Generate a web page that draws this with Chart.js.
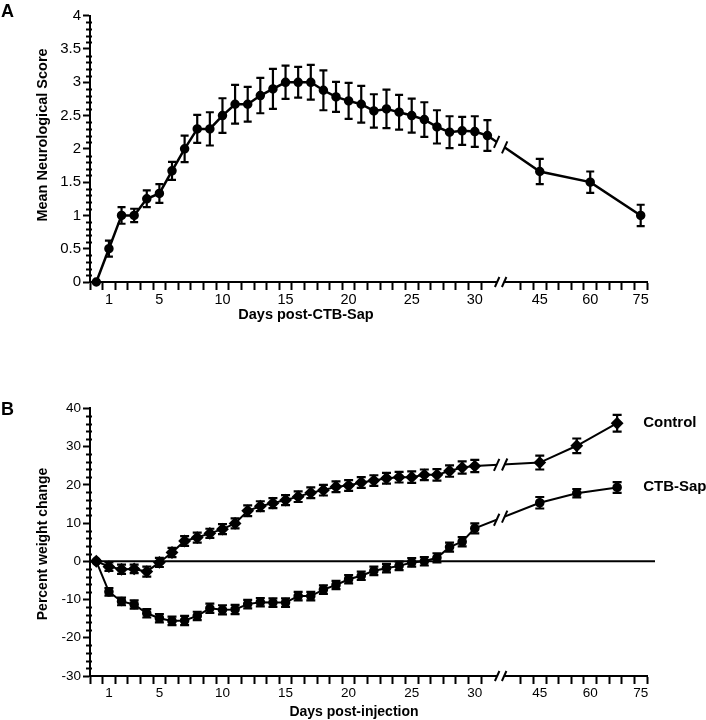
<!DOCTYPE html>
<html>
<head>
<meta charset="utf-8">
<script src="https://cdn.jsdelivr.net/npm/chart.js@4.4.1/dist/chart.umd.min.js"></script>
<style>
    html, body { margin: 0; padding: 0; background: #fff; }
    #wrap { position: relative; width: 706px; height: 720px; }
    #panelA { position: absolute; left: 0; top: 0; }
    #panelB { position: absolute; left: 0; top: 330px; }
</style>
</head>
<body>
<div id="wrap">
    <canvas id="panelA" width="706" height="330"></canvas>
    <canvas id="panelB" width="706" height="390"></canvas>
</div>
<script>
// panel A data
var daysA = [0,1,2,3,4,5,6,7,8,9,10,11,12,13,14,15,16,17,18,19,20,21,22,23,24,25,26,27,28,29,30,31,45,60,75];
var scoreMean = [0,0.5,1.0,1.0,1.25,1.33,1.67,2.0,2.3,2.3,2.5,2.67,2.67,2.8,2.9,3.0,3.0,3.0,2.88,2.78,2.72,2.67,2.57,2.6,2.55,2.5,2.44,2.33,2.25,2.27,2.26,2.2,1.66,1.5,1.0];
var scoreErr = [0,0.12,0.125,0.1,0.125,0.14,0.135,0.2,0.21,0.25,0.26,0.29,0.26,0.265,0.3,0.25,0.23,0.26,0.3,0.225,0.27,0.275,0.25,0.29,0.26,0.255,0.26,0.25,0.24,0.21,0.23,0.23,0.19,0.16,0.16];

// panel B data
var daysB = [0,1,2,3,4,5,6,7,8,9,10,11,12,13,14,15,16,17,18,19,20,21,22,23,24,25,26,27,28,29,30,45,56,68];
var controlMean = [0,-1.4,-2.1,-2.0,-2.7,-0.3,2.3,5.3,6.2,7.3,8.4,9.9,13.2,14.4,15.2,16.0,16.9,17.9,18.6,19.5,19.8,20.6,21.1,21.7,22.0,22.0,22.6,22.6,23.6,24.5,24.9,25.8,30.2,36.1];
var controlErr = [0,1.1,1.2,1.1,1.3,1.2,1.2,1.3,1.3,1.2,1.3,1.3,1.4,1.3,1.3,1.3,1.4,1.4,1.4,1.4,1.4,1.4,1.4,1.4,1.4,1.5,1.4,1.5,1.5,1.6,1.6,1.8,1.9,2.2];
var ctbMean = [0,-8.0,-10.5,-11.3,-13.6,-14.9,-15.6,-15.5,-14.3,-12.3,-12.7,-12.6,-11.2,-10.7,-10.8,-10.8,-9.1,-9.1,-7.4,-6.2,-4.7,-3.8,-2.5,-1.8,-1.2,-0.3,0,0.9,3.7,5.1,8.6,15.3,17.8,19.3];
var ctbErr = [0,1.0,1.0,1.1,1.1,1.1,1.1,1.2,1.1,1.2,1.2,1.2,1.1,1.1,1.1,1.1,1.1,1.1,1.1,1.1,1.1,1.1,1.1,1.1,1.1,1.1,1.1,1.2,1.2,1.2,1.3,1.5,1.1,1.4];

// tick labels shown under the x axis (days)
var xLabelDays = [1,5,10,15,20,25,30,45,60,75];
var yTicksA = [0,0.5,1,1.5,2,2.5,3,3.5,4];
var yTicksB = [-30,-20,-10,0,10,20,30,40];

var FONT = '"Liberation Sans", Arial, Helvetica, sans-serif';

// broken x axis: one unit per day up to day 31, then 3.75 days per unit
function xPos(day) {
    return day <= 31 ? day : 35.15 + (day - 45) / 3.75;
}
var breakPos = 32.05;

// tick marks sit half a day before each day
var xTickPos = [];
for (var t = 0; t <= 31; t++) xTickPos.push(t - 0.5);
for (var t = 0; t <= 10; t++) xTickPos.push(33.65 + t);

function xTickLabel(value) {
    for (var i = 0; i < xLabelDays.length; i++) {
        if (Math.abs(xPos(xLabelDays[i]) - (value + 0.5)) < 0.01) return String(xLabelDays[i]);
    }
    return '';
}

function toXY(days, vals) {
    return days.map(function(d, i) { return {x: xPos(d), y: vals[i]}; });
}

function xScaleCfg(h, size) {
    return {
        type: 'linear', min: -0.5, max: 43.65,
        afterBuildTicks: function(s) { s.ticks = xTickPos.map(function(v) { return {value: v}; }); },
        afterFit: function(s) { s.height = h; },
        grid: { drawOnChartArea: false, tickLength: 8, tickWidth: 2, tickColor: '#000' },
        border: { color: '#000', width: 2 },
        ticks: { autoSkip: false, maxRotation: 0, labelOffset: 6.3, padding: 1, color: '#000',
                 font: { family: FONT, size: size }, callback: xTickLabel }
    };
}

function yScaleCfg(min, max, tickVals, size) {
    return {
        min: min, max: max,
        afterBuildTicks: function(s) { s.ticks = tickVals.map(function(v) { return {value: v}; }); },
        afterFit: function(s) { s.width = 90; },
        grid: { drawOnChartArea: false, tickLength: 7, tickWidth: 2, tickColor: '#000' },
        border: { color: '#000', width: 2 },
        ticks: { padding: 2, color: '#000', font: { family: FONT, size: size },
                 callback: function(v) { return String(v); } }
    };
}

function slash(ctx, x, y, h) {
    ctx.beginPath();
    ctx.moveTo(x - h * 0.45, y + h);
    ctx.lineTo(x + h * 0.45, y - h);
    ctx.stroke();
}

// draws error bars, minor ticks, axis breaks and texts for one panel
function panelPlugin(opt) {
    return {
        id: 'panel' + opt.letter,
        beforeDatasetsDraw: function(chart) {
            var ctx = chart.ctx, ys = chart.scales.y, area = chart.chartArea;
            ctx.save();
            ctx.strokeStyle = '#000';
            if (opt.zeroLine) {
                ctx.lineWidth = 2;
                var y0 = ys.getPixelForValue(0);
                ctx.beginPath(); ctx.moveTo(area.left, y0); ctx.lineTo(area.right + 8, y0); ctx.stroke();
            }
            chart.data.datasets.forEach(function(ds, di) {
                var meta = chart.getDatasetMeta(di);
                ctx.lineWidth = 2.2;
                ds.errorBars.forEach(function(e, i) {
                    if (!e) return;
                    var p = meta.data[i], v = ds.data[i].y;
                    var top = ys.getPixelForValue(v + e), bot = ys.getPixelForValue(v - e);
                    ctx.beginPath();
                    ctx.moveTo(p.x, top); ctx.lineTo(p.x, bot);
                    ctx.moveTo(p.x - opt.cap, top); ctx.lineTo(p.x + opt.cap, top);
                    ctx.moveTo(p.x - opt.cap, bot); ctx.lineTo(p.x + opt.cap, bot);
                    ctx.stroke();
                });
            });
            ctx.restore();
        },
        afterDraw: function(chart) {
            var ctx = chart.ctx, xs = chart.scales.x, ys = chart.scales.y, area = chart.chartArea;
            ctx.save();
            ctx.strokeStyle = '#000';
            ctx.fillStyle = '#000';
            ctx.lineWidth = 2;
            // minor y ticks
            for (var v = ys.min; v <= ys.max + 1e-6; v += opt.minorStep) {
                var r = Math.round(v / opt.minorStep) * opt.minorStep;
                if (Math.abs(r / opt.majorStep - Math.round(r / opt.majorStep)) < 1e-6) continue;
                var py = Math.round(ys.getPixelForValue(r)) + 0.5;
                ctx.beginPath(); ctx.moveTo(area.left - 4, py); ctx.lineTo(area.left + 2, py); ctx.stroke();
            }
            // axis break
            var bx = xs.getPixelForValue(breakPos), ay = area.bottom;
            ctx.fillStyle = '#fff';
            ctx.fillRect(bx - 3.5, ay - 2, 7, 4);
            slash(ctx, bx - 3.5, ay, 5);
            slash(ctx, bx + 3.5, ay, 5);
            // line breaks
            chart.data.datasets.forEach(function(ds, di) {
                var meta = chart.getDatasetMeta(di), k = -1;
                for (var i = 0; i < ds.data.length - 1; i++) {
                    if (ds.data[i].x < breakPos && ds.data[i + 1].x > breakPos) k = i;
                }
                if (k < 0) return;
                var p1 = meta.data[k], p2 = meta.data[k + 1];
                var xl = bx - 4, xr = bx + 4;
                var yl = p1.y + (p2.y - p1.y) * (xl - p1.x) / (p2.x - p1.x);
                var yr = p1.y + (p2.y - p1.y) * (xr - p1.x) / (p2.x - p1.x);
                ctx.strokeStyle = '#fff'; ctx.lineWidth = 6; ctx.lineCap = 'butt';
                ctx.beginPath(); ctx.moveTo(xl, yl); ctx.lineTo(xr, yr); ctx.stroke();
                ctx.strokeStyle = '#000'; ctx.lineWidth = 2;
                slash(ctx, xl, yl, 6);
                slash(ctx, xr, yr, 6);
                if (ds.endLabel) {
                    var last = meta.data[meta.data.length - 1];
                    ctx.fillStyle = '#000';
                    ctx.font = 'bold 15px ' + FONT;
                    ctx.textAlign = 'left'; ctx.textBaseline = 'alphabetic';
                    ctx.fillText(ds.endLabel, last.x + 26, last.y + 3.5);
                }
            });
            // panel letter and axis titles
            ctx.fillStyle = '#000';
            ctx.textAlign = 'left'; ctx.textBaseline = 'alphabetic';
            ctx.font = 'bold 18px ' + FONT;
            ctx.fillText(opt.letter, 1, opt.letterY);
            ctx.font = 'bold ' + opt.titleSize + 'px ' + FONT;
            ctx.textAlign = 'center'; ctx.textBaseline = 'middle';
            ctx.fillText(opt.xTitle, opt.xTitleX, opt.xTitleY);
            ctx.translate(43, opt.yTitleY);
            ctx.rotate(-Math.PI / 2);
            ctx.fillText(opt.yTitle, 0, 0);
            ctx.restore();
        }
    };
}

// A: neurological score
new Chart(document.getElementById('panelA'), {
    type: 'line',
    data: {
        datasets: [{
            label: 'CTB-Sap',
            data: toXY(daysA, scoreMean),
            errorBars: scoreErr,
            borderColor: '#000', backgroundColor: '#000', borderWidth: 2.5,
            pointStyle: 'circle', pointRadius: 3.5, pointHoverRadius: 3.5,
            tension: 0, clip: false
        }]
    },
    options: {
        responsive: false, animation: false,
        layout: { padding: { top: 15.7, right: 59, bottom: 0, left: 0 } },
        plugins: { legend: { display: false }, tooltip: { enabled: false } },
        scales: { x: xScaleCfg(48, 14.5), y: yScaleCfg(0, 4, yTicksA, 15) }
    },
    plugins: [panelPlugin({
        letter: 'A', letterY: 17, cap: 4, minorStep: 0.1, majorStep: 0.5, titleSize: 14.5,
        xTitle: 'Days post-CTB-Sap', xTitleX: 306, xTitleY: 315,
        yTitle: 'Mean Neurological Score', yTitleY: 135
    })]
});

// B: weight change
new Chart(document.getElementById('panelB'), {
    type: 'line',
    data: {
        datasets: [{
            label: 'Control',
            endLabel: 'Control',
            data: toXY(daysB, controlMean),
            errorBars: controlErr,
            borderColor: '#000', backgroundColor: '#000', borderWidth: 2,
            pointStyle: 'rectRot', pointRadius: 5, pointHoverRadius: 5,
            tension: 0, clip: false
        }, {
            label: 'CTB-Sap',
            endLabel: 'CTB-Sap',
            data: toXY(daysB, ctbMean),
            errorBars: ctbErr,
            borderColor: '#000', backgroundColor: '#000', borderWidth: 2,
            pointStyle: 'circle', pointRadius: 3.8, pointHoverRadius: 3.8,
            tension: 0, clip: false
        }]
    },
    options: {
        responsive: false, animation: false,
        layout: { padding: { top: 78.3, right: 59, bottom: 0, left: 0 } },
        plugins: { legend: { display: false }, tooltip: { enabled: false } },
        scales: { x: xScaleCfg(44, 13.5), y: yScaleCfg(-30, 40, yTicksB, 13.5) }
    },
    plugins: [panelPlugin({
        letter: 'B', letterY: 85, cap: 4.5, minorStep: 2, majorStep: 10, zeroLine: true, titleSize: 14,
        xTitle: 'Days post-injection', xTitleX: 354, xTitleY: 382,
        yTitle: 'Percent weight change', yTitleY: 214
    })]
});
</script>
</body>
</html>
